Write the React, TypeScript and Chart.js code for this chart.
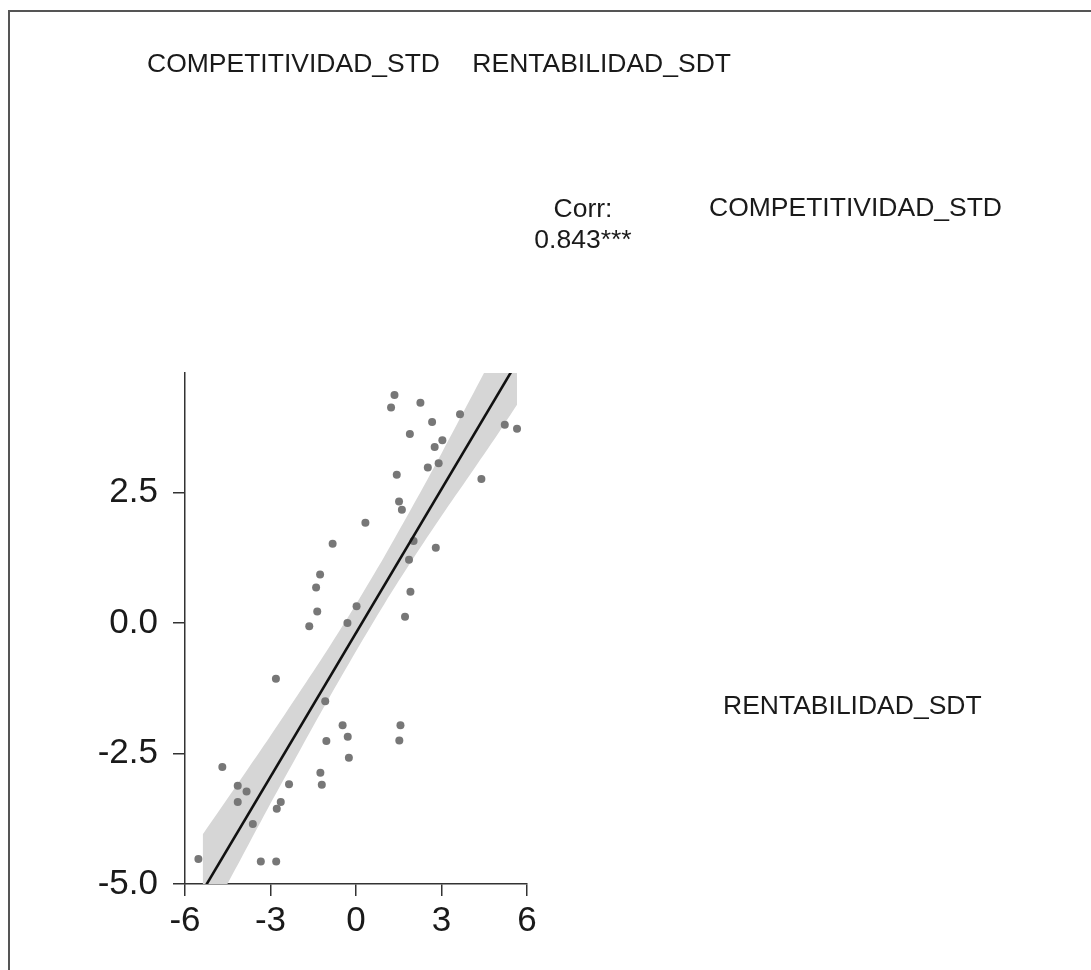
import React, { useEffect, useRef } from "react";
import { Chart, registerables } from "chart.js";

Chart.register(...registerables);

// ---- data ----
const xValues = [
  -0.82, -1.26, -1.4, -1.36, 0.02, 1.35, 1.23, 2.26, 3.65, 2.67,
  5.22, 5.65, 1.89, 3.03, 2.76, 2.9, 2.52, 1.43, 4.4, 1.51,
  1.61, 0.33, 2.02, 2.8, 1.86, 1.91, 1.72, 1.56, 1.52, -1.64,
  -0.3, -2.81, -1.08, -0.47, -0.29, -1.04, -0.25, -4.69, -1.25, -1.2,
  -4.15, -2.35, -3.84, -4.15, -2.64, -2.78, -3.62, -5.53, -3.34, -2.8,
];
const yValues = [
  1.52, 0.93, 0.68, 0.22, 0.32, 4.37, 4.13, 4.22, 4.0, 3.85,
  3.8, 3.72, 3.62, 3.5, 3.37, 3.06, 2.98, 2.84, 2.76, 2.33,
  2.17, 1.92, 1.57, 1.44, 1.21, 0.6, 0.12, -1.96, -2.25, -0.06,
  0.0, -1.07, -1.5, -1.96, -2.18, -2.26, -2.58, -2.76, -2.87, -3.1,
  -3.12, -3.09, -3.23, -3.43, -3.43, -3.56, -3.85, -4.52, -4.57, -4.57,
];
const fitX = [-5.53, 5.65];
const fitY = [-5.27, 5.0];
const bandX = [-5.38, -4, -3, -2, -1, 0, 1, 2, 3, 4, 5, 5.65];
const bandUpper = [-4.05, -2.96, -2.16, -1.34, -0.51, 0.36, 1.28, 2.25, 3.25, 4.28, 5.32, 6.0];
const bandLower = [-5.88, -4.48, -3.46, -2.47, -1.49, -0.54, 0.37, 1.23, 2.05, 2.84, 3.64, 4.18];
const xTicks = [-6, -3, 0, 3, 6];
const yTicks = [-5, -2.5, 0, 2.5];
const xRange = [-6, 6];
const yRange = [-5, 4.79];
const colLabels = ["COMPETITIVIDAD_STD", "RENTABILIDAD_SDT"];
const corrLabel = "Corr:";
const corrValue = "0.843***";

const FONT = '"Liberation Sans", Arial, Helvetica, sans-serif';
const TEXT = "#1a1a1a";

export default function App() {
  const ref = useRef<HTMLCanvasElement>(null);

  useEffect(() => {
    const canvas = ref.current;
    if (!canvas) return;
    const pts = xValues.map((x, i) => ({ x, y: yValues[i] }));
    const line = fitX.map((x, i) => ({ x, y: fitY[i] }));
    const up = bandX.map((x, i) => ({ x, y: bandUpper[i] }));
    const lo = bandX.map((x, i) => ({ x, y: bandLower[i] }));

    const axisCommon = {
      type: "linear" as const,
      grid: {
        display: true,
        drawOnChartArea: false,
        drawTicks: true,
        tickLength: 12,
        color: "#333333",
        lineWidth: 1.5,
      },
      border: { display: true, color: "#333333", width: 1.5 },
    };

    const chart = new Chart(canvas, {
      type: "line",
      data: {
        datasets: [
          {
            data: line,
            borderColor: "#111111",
            borderWidth: 2.6,
            pointRadius: 0,
            fill: false,
            tension: 0,
          },
          {
            data: pts,
            showLine: false,
            pointRadius: 4,
            pointBorderWidth: 0,
            pointBackgroundColor: "#777777",
            borderColor: "#777777",
            fill: false,
          },
          {
            data: up,
            borderWidth: 0,
            borderColor: "rgba(0,0,0,0)",
            pointRadius: 0,
            fill: "+1",
            backgroundColor: "#d6d6d6",
            tension: 0.3,
          },
          {
            data: lo,
            borderWidth: 0,
            borderColor: "rgba(0,0,0,0)",
            pointRadius: 0,
            fill: false,
            tension: 0.3,
          },
        ],
      },
      options: {
        responsive: false,
        animation: false,
        events: [],
        layout: { padding: { left: 65, top: 373, right: 564, bottom: 26 } },
        plugins: { legend: { display: false }, tooltip: { enabled: false } },
        scales: {
          x: {
            ...axisCommon,
            min: xRange[0],
            max: xRange[1],
            afterBuildTicks: (s: any) => {
              s.ticks = xTicks.map((v) => ({ value: v }));
            },
            afterFit: (s: any) => {
              s.height = 60;
            },
            ticks: {
              autoSkip: false,
              maxRotation: 0,
              padding: 4,
              color: TEXT,
              font: { family: FONT, size: 35 },
              callback: (v: any) => String(v),
            },
          },
          y: {
            ...axisCommon,
            min: yRange[0],
            max: yRange[1],
            afterBuildTicks: (s: any) => {
              s.ticks = yTicks.map((v) => ({ value: v }));
            },
            afterFit: (s: any) => {
              s.width = 120;
            },
            ticks: {
              autoSkip: false,
              padding: 15,
              color: TEXT,
              font: { family: FONT, size: 35 },
              callback: (v: any) => Number(v).toFixed(1),
            },
          },
        },
      },
    } as any);
    return () => chart.destroy();
  }, []);

  const txt: React.CSSProperties = {
    position: "absolute",
    fontFamily: FONT,
    fontSize: 26.5,
    lineHeight: 1,
    color: TEXT,
    whiteSpace: "nowrap",
  };

  return (
    <div
      style={{
        position: "absolute",
        left: 0,
        top: 0,
        width: 1091,
        height: 970,
        overflow: "hidden",
        background: "#ffffff",
      }}
    >
      <div
        style={{
          position: "absolute",
          left: 8,
          top: 10,
          width: 1200,
          height: 1100,
          borderLeft: "2px solid #555555",
          borderTop: "2px solid #555555",
        }}
      />
      <canvas
        ref={ref}
        width={1091}
        height={970}
        style={{ position: "absolute", left: 0, top: 0, width: 1091, height: 970 }}
      />
      <div style={{ ...txt, left: 147, top: 50 }}>{colLabels[0]}</div>
      <div style={{ ...txt, right: 360, top: 50 }}>{colLabels[1]}</div>
      <div style={{ ...txt, left: 483, width: 200, textAlign: "center", top: 195 }}>{corrLabel}</div>
      <div style={{ ...txt, left: 483, width: 200, textAlign: "center", top: 226 }}>{corrValue}</div>
      <div style={{ ...txt, left: 709, top: 194 }}>{colLabels[0]}</div>
      <div style={{ ...txt, left: 723, top: 692 }}>{colLabels[1]}</div>
    </div>
  );
}
